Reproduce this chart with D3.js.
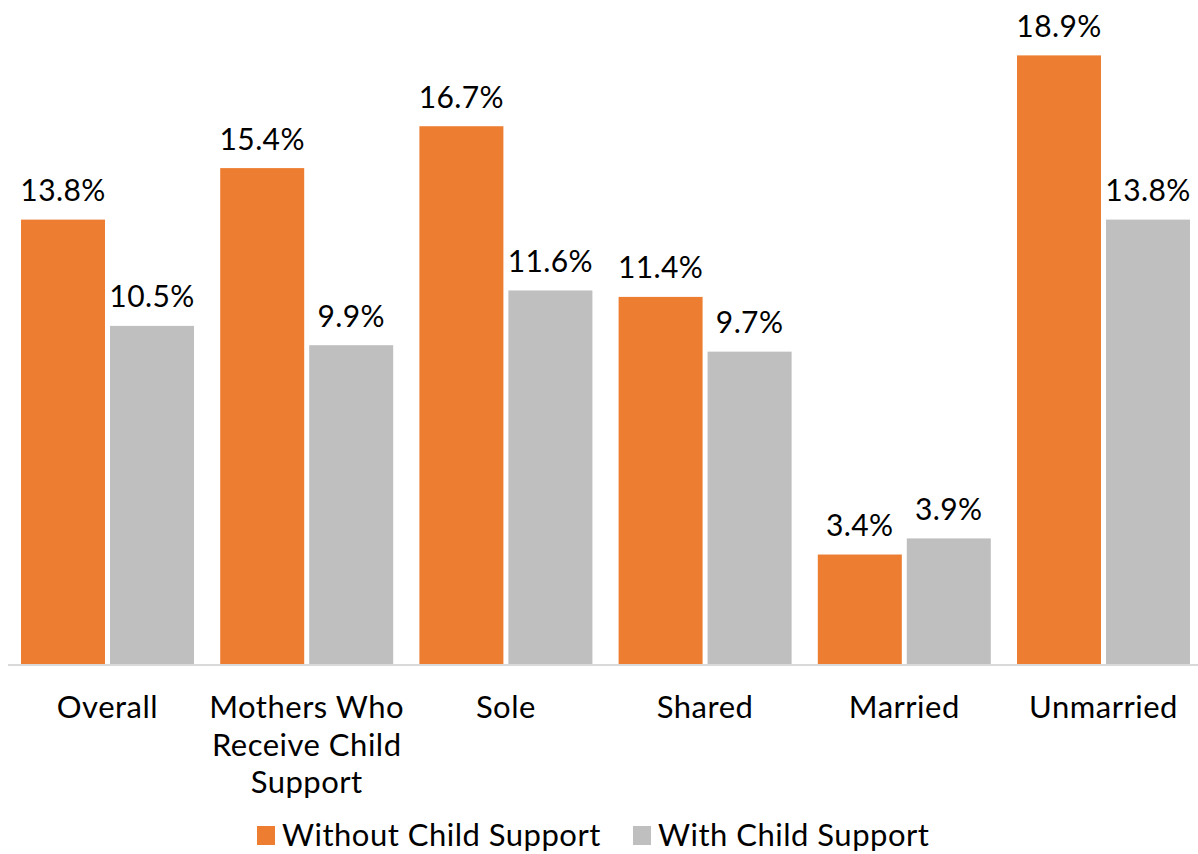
<!DOCTYPE html>
<html>
<head>
<meta charset="utf-8">
<script src="https://cdn.jsdelivr.net/npm/d3@7"></script>
<style>
  html, body { margin: 0; padding: 0; background: #fff; }
  svg { display: block; }
</style>
</head>
<body>
<div id="chart"></div>
<script>
// data
const categories = ["Overall", "Mothers Who Receive Child Support", "Sole", "Shared", "Married", "Unmarried"];
const seriesNames = ["Without Child Support", "With Child Support"];
const withoutSupport = [13.8, 15.4, 16.7, 11.4, 3.4, 18.9];
const withSupport = [10.5, 9.9, 11.6, 9.7, 3.9, 13.8];

const colors = ["#ED7D31", "#BFBFBF"];

const width = 1198, height = 854;
const baseY = 664;
const fontFamily = "Lato, 'Open Sans', sans-serif";

const svg = d3.select("#chart").append("svg")
    .attr("width", width)
    .attr("height", height);

// escalas
const x0 = d3.scaleBand()
    .domain(categories)
    .range([8, 8 + 6 * 199.2]);

const x1 = d3.scaleBand()
    .domain(seriesNames)
    .range([13, 186])
    .paddingInner(0.0562);

const y = d3.scaleLinear()
    .domain([0, 20.62])
    .range([baseY, 0]);

const rows = categories.map((c, i) => ({
    cat: c,
    values: [withoutSupport[i], withSupport[i]]
}));

// barras
const groups = svg.append("g").selectAll("g")
    .data(rows)
    .join("g")
    .attr("transform", d => `translate(${x0(d.cat)},0)`);

groups.selectAll("rect")
    .data(d => d.values.map((v, j) => ({ name: seriesNames[j], v, j })))
    .join("rect")
    .attr("x", d => x1(d.name))
    .attr("y", d => y(d.v))
    .attr("width", x1.bandwidth())
    .attr("height", d => baseY - y(d.v))
    .attr("fill", d => colors[d.j]);

// etiquetas de valores
groups.selectAll("text.val")
    .data(d => d.values.map((v, j) => ({ name: seriesNames[j], v, j })))
    .join("text")
    .attr("class", "val")
    .attr("x", d => x1(d.name) + x1.bandwidth() / 2)
    .attr("y", d => y(d.v) - 18.5)
    .attr("text-anchor", "middle")
    .style("font-family", fontFamily)
    .style("font-size", "30px")
    .style("letter-spacing", "0.4px")
    .style("fill", "#000")
    .text(d => d.v.toFixed(1) + "%");

// eje
svg.append("line")
    .attr("x1", 8).attr("x2", 1198)
    .attr("y1", baseY + 1).attr("y2", baseY + 1)
    .style("stroke", "#d9d9d9")
    .style("stroke-width", 2);

// etiquetas de categorías con ajuste de línea
function wrap(textSel, maxWidth) {
    textSel.each(function() {
        const t = d3.select(this);
        const words = t.text().split(/\s+/);
        const cx = t.attr("x");
        t.text(null);
        let line = [];
        let tspan = t.append("tspan").attr("x", cx).attr("dy", 0);
        words.forEach(w => {
            line.push(w);
            tspan.text(line.join(" "));
            if (tspan.node().getComputedTextLength() > maxWidth && line.length > 1) {
                line.pop();
                tspan.text(line.join(" "));
                line = [w];
                tspan = t.append("tspan").attr("x", cx).attr("dy", 37.6).text(w);
            }
        });
    });
}

svg.append("g").selectAll("text")
    .data(categories)
    .join("text")
    .attr("x", d => x0(d) + 13 + 173 / 2)
    .attr("y", 718)
    .attr("text-anchor", "middle")
    .style("font-family", fontFamily)
    .style("font-size", "31px")
    .style("letter-spacing", "0.5px")
    .style("fill", "#000")
    .text(d => d)
    .call(wrap, 205);

// leyenda
const legend = svg.append("g");
const legendX = [257, 633];
seriesNames.forEach((name, i) => {
    legend.append("rect")
        .attr("x", legendX[i])
        .attr("y", 826)
        .attr("width", 18)
        .attr("height", 19)
        .attr("fill", colors[i]);
    legend.append("text")
        .attr("x", legendX[i] + 25)
        .attr("y", 846)
        .style("font-family", fontFamily)
        .style("font-size", "31px")
        .style("letter-spacing", "0.5px")
        .style("fill", "#000")
        .text(name);
});
</script>
</body>
</html>
